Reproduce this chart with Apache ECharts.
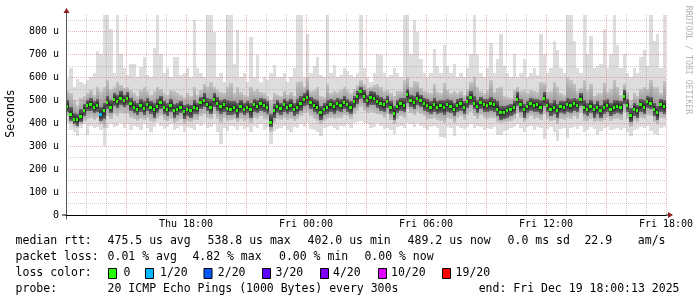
<!DOCTYPE html>
<html><head><meta charset="utf-8">
<script src="https://cdn.jsdelivr.net/npm/echarts@6/dist/echarts.min.js"></script>
<style>html,body{margin:0;padding:0;background:#fff}#c{width:697px;height:297px}</style>
</head><body><div id="c"></div>
<script>
// ---- data (10-minute slots, Thu 12:00 -> Fri 18:00), values in microseconds ----
const slotHours = 1 / 6;
const yMax = 872;
const median = [
475,440,418,415,430,455,478,482,470,478,
440,455,490,470,505,495,510,500,508,485,
470,462,478,465,482,470,458,475,490,468,
460,478,455,462,470,450,458,455,470,465,
490,498,480,470,502,488,472,480,466,462,
470,455,475,462,470,458,480,472,485,478,
470,402,455,472,465,480,470,478,462,470,
488,505,512,490,478,470,445,462,470,480,
472,485,478,490,480,470,495,515,538,518,
500,512,508,495,488,480,495,470,443,472,
485,478,526,500,490,510,498,485,478,470,
482,470,476,468,480,475,462,478,485,470,
495,512,488,475,490,480,478,485,480,462,
445,448,455,458,470,505,480,458,472,485,
478,480,470,508,478,462,470,455,472,468,
480,476,485,478,505,470,462,475,458,468,
455,470,478,462,470,475,468,516,478,432,
462,455,480,470,495,488,460,445,480,472];
const pingMax = [
595,640,560,595,580,570,590,600,620,713,
700,870,870,813,620,870,700,640,610,660,
660,600,645,690,610,600,726,870,700,620,
640,600,690,690,610,620,640,600,850,640,
620,600,870,870,800,600,620,580,870,870,
660,806,600,620,580,778,600,697,580,600,
590,620,653,600,600,620,580,600,640,870,
870,600,790,620,650,690,610,600,870,620,
653,600,610,640,630,610,600,620,870,640,
600,580,620,700,697,620,600,610,640,620,
600,870,870,700,850,800,680,620,600,620,
725,650,620,740,650,620,660,600,620,600,
640,700,870,700,620,600,640,750,620,680,
790,650,620,600,700,600,620,680,600,620,
640,610,790,700,620,640,760,720,640,620,
870,870,760,640,620,870,700,780,640,650,
660,810,640,700,870,740,640,700,620,600,
640,620,690,720,650,870,760,790,640,870];
const pingMin = [
400,370,360,345,380,395,350,390,380,385,
370,300,380,395,385,390,400,380,395,372,
390,385,370,395,380,360,385,400,390,375,
385,395,370,380,390,360,385,380,370,395,
390,400,380,385,395,360,310,380,365,390,
385,370,390,375,385,360,390,380,395,370,
385,310,365,375,380,390,370,360,385,380,
395,385,400,375,370,360,345,380,385,390,
380,370,390,385,395,380,400,405,410,400,
395,380,385,400,390,375,380,370,355,385,
390,380,400,395,385,400,390,380,370,385,
390,380,340,335,385,380,345,390,380,375,
385,395,380,390,385,370,380,375,385,350,
350,365,370,380,385,395,380,360,385,390,
370,385,380,330,375,385,360,322,375,380,
335,380,385,375,390,360,370,385,375,350,
365,380,385,370,375,380,370,380,360,345,
370,375,385,380,390,365,355,350,380,385];
const midHigh = [
540,530,500,480,510,520,530,545,525,560,
540,560,590,550,560,580,565,555,560,545,
530,520,545,560,540,525,540,560,550,530,
525,545,540,530,525,515,530,520,560,525,
545,570,560,580,560,545,535,530,560,575,
530,560,535,525,520,560,540,550,535,530,
520,500,530,525,520,540,525,535,520,580,
585,560,600,540,545,560,520,515,570,530,
540,535,545,560,545,530,550,565,590,570,
555,560,565,570,560,540,545,530,520,540,
540,590,600,560,585,580,555,540,535,530,
570,535,530,575,545,530,540,530,540,525,
550,580,600,560,540,530,545,590,535,555,
560,520,515,510,545,560,540,545,530,545,
540,535,580,575,535,540,580,560,530,525,
600,590,570,540,555,590,545,570,520,530,
530,575,535,550,590,560,525,570,535,500,
530,520,550,560,550,590,560,560,530,585];
const midLow = [
430,400,385,380,395,410,420,425,415,425,
395,380,430,420,440,430,445,440,445,425,
420,410,420,415,425,410,405,420,430,415,
410,420,400,410,420,395,410,405,415,415,
430,440,425,420,440,420,400,425,410,415,
420,405,420,410,420,400,425,420,430,420,
420,360,400,420,415,425,415,420,410,420,
430,445,450,430,420,410,395,410,420,425,
420,425,425,435,430,420,440,455,470,455,
445,450,445,440,435,425,440,415,395,420,
430,425,460,445,435,450,440,430,420,420,
425,415,410,400,425,420,400,425,430,415,
435,450,430,420,435,425,420,425,425,405,
400,405,405,410,420,445,425,405,420,430,
420,425,415,440,420,410,415,395,420,415,
425,420,430,420,445,410,410,420,405,410,
405,415,425,410,420,420,415,450,420,385,
410,405,425,420,435,430,405,395,425,420];
const coreHigh = [
500,470,445,440,460,485,500,510,495,505,
470,490,520,500,530,525,540,525,535,510,
495,490,505,495,510,495,490,505,520,495,
490,505,485,490,495,480,485,480,500,490,
515,530,510,505,530,515,500,505,500,495,
495,490,500,490,495,490,505,500,510,505,
495,440,485,500,490,505,495,505,490,505,
520,530,545,515,505,500,475,490,500,505,
500,510,505,520,505,495,520,540,560,545,
525,540,535,525,515,505,520,495,475,500,
510,510,550,525,520,535,525,510,505,495,
510,495,500,500,505,500,490,505,510,495,
520,540,520,500,515,505,505,515,505,495,
475,475,480,485,495,535,505,485,495,510,
505,505,500,535,505,490,500,485,495,495,
510,505,510,505,530,500,490,500,485,495,
480,500,505,490,500,500,495,545,505,465,
490,480,505,500,520,515,490,475,505,500];
const coreLow = [
450,410,395,390,405,430,455,455,445,450,
410,420,460,445,475,465,480,470,480,455,
445,435,450,435,455,440,425,445,460,440,
430,450,425,435,445,420,430,425,440,440,
460,470,455,440,470,455,440,450,435,435,
440,425,445,435,445,425,450,445,455,450,
440,385,425,445,435,450,440,450,430,440,
455,475,480,460,450,440,415,435,440,450,
440,455,450,460,450,440,465,485,505,490,
470,480,480,465,455,450,465,440,415,445,
455,450,490,470,460,480,470,455,450,440,
450,440,445,435,450,445,430,450,455,440,
465,480,460,445,460,450,450,455,450,430,
415,420,425,430,440,475,450,425,445,455,
450,450,440,475,450,430,440,425,445,440,
450,445,455,450,475,440,430,445,425,440,
425,440,450,430,440,445,440,485,450,405,
430,425,450,440,465,460,430,415,450,440];
const lossSlots = [10];
const lossSlotCount = [1];
const lossCounts = [0, 1, 2, 3, 4, 10, 19];
const lossLabels = ['0', '1/20', '2/20', '3/20', '4/20', '10/20', '19/20'];
const lossColors = ['#26ff00', '#00b8ff', '#0059ff', '#5e00ff', '#7e00ff', '#dd00ff', '#ff0000'];
const xTickHours = [6, 12, 18, 24, 30];
const xTickLabels = ['Thu 18:00', 'Fri 00:00', 'Fri 06:00', 'Fri 12:00', 'Fri 18:00'];
const yTickValues = [0, 100, 200, 300, 400, 500, 600, 700, 800];
const yTickLabels = ['0', '100 u', '200 u', '300 u', '400 u', '500 u', '600 u', '700 u', '800 u'];
const rttStats = ['475.5 us avg', '538.8 us max', '402.0 us min', '489.2 us now', '0.0 ms sd', '22.9', 'am/s'];
const lossStats = ['0.01 % avg', '4.82 % max', '0.00 % min', '0.00 % now'];
const probeText = '20 ICMP Echo Pings (1000 Bytes) every 300s';
const endText = 'end: Fri Dec 19 18:00:13 2025';

// ---- rendering ----
const mono = 'DejaVu Sans Mono';
const chart = echarts.init(document.getElementById('c'), null, {renderer: 'canvas'});
const data = median.map((m, k) => {
  const li = lossSlots.indexOf(k);
  return [k * slotHours, pingMin[k], pingMax[k], midLow[k], midHigh[k], coreLow[k], coreHigh[k], m, li >= 0 ? lossSlotCount[li] : 0];
});
function lossColor(n) {
  let c = lossColors[0];
  for (let i = 0; i < lossCounts.length; i++) if (n >= lossCounts[i]) c = lossColors[i];
  return c;
}
function shade(edge, centre, f) {
  const s = Math.max(0.02, Math.min(0.98, f));
  return {type: 'linear', x: 0, y: 0, x2: 0, y2: 1, colorStops: [
    {offset: 0, color: edge}, {offset: s, color: centre}, {offset: 1, color: edge}]};
}
function renderItem(params, api) {
  const t = api.value(0);
  const xa = Math.round(api.coord([t, 0])[0]);
  const xb = Math.round(api.coord([t + slotHours, 0])[0]);
  const w = xb - xa;
  const ym = api.coord([t, api.value(7)])[1];
  const band = (lo, hi, edge, centre) => {
    const ya = Math.round(api.coord([t, Math.min(hi, yMax)])[1]);
    const yb = Math.round(api.coord([t, lo])[1]);
    const h = yb - ya;
    const fill = centre ? shade(edge, centre, (ym - ya) / h) : edge;
    return {type: 'rect', shape: {x: xa, y: ya, width: w, height: h}, style: {fill: fill}};
  };
  return {type: 'group', children: [
    band(api.value(1), api.value(2), '#dddddd'),
    band(api.value(3), api.value(4), '#c4c4c4', '#8a8a8a'),
    band(api.value(5), api.value(6), '#6a6a6a', '#1e1e1e'),
    {type: 'rect', shape: {x: xa, y: Math.round(ym - 1.5), width: Math.max(2, w - 1), height: 3}, style: {fill: lossColor(api.value(8))}}
  ]};
}

const minorGrid = {color: 'rgba(143,143,143,0.42)', type: [1, 1], width: 1};
const majorGrid = {color: 'rgba(222,80,80,0.45)', type: [1, 1], width: 1};

const option = {
  animation: false,
  backgroundColor: '#ffffff',
  grid: {left: 66, top: 15, width: 600, height: 200, containLabel: false},
  xAxis: {
    type: 'value', min: 0, max: 30, interval: 3, z: 5,
    axisLine: {show: true, onZero: false, lineStyle: {color: '#000', width: 1}},
    axisTick: {show: false},
    axisLabel: {
      formatter: v => { const i = xTickHours.indexOf(v); return i >= 0 ? xTickLabels[i] : ''; },
      fontFamily: mono, fontSize: 10, color: '#000', margin: 4, showMinLabel: false, showMaxLabel: true
    },
    splitLine: {show: true, showMinLine: false, lineStyle: majorGrid},
    minorTick: {show: false, splitNumber: 3},
    minorSplitLine: {show: true, lineStyle: minorGrid}
  },
  yAxis: {
    type: 'value', min: 0, max: yMax, interval: 100, z: 5,
    axisLine: {show: true, lineStyle: {color: '#555', width: 1}},
    axisTick: {show: false},
    axisLabel: {
      formatter: v => { const i = yTickValues.indexOf(v); return i >= 0 ? yTickLabels[i] : ''; },
      fontFamily: mono, fontSize: 10, color: '#000', margin: 7, showMaxLabel: false
    },
    splitLine: {show: true, showMinLine: false, showMaxLine: false, lineStyle: majorGrid},
    minorTick: {show: false, splitNumber: 2},
    minorSplitLine: {show: true, lineStyle: minorGrid}
  },
  series: [{
    type: 'custom', renderItem: renderItem, data: data, z: 2, clip: true,
    encode: {x: 0, y: 7}
  }]
};
chart.setOption(option);

// ---- texts & axis decorations ----
const g = [];
function txt(x, y, s, opts) {
  g.push(Object.assign({type: 'text', x: x, y: y, silent: true,
    style: Object.assign({text: s, fontFamily: mono, fontSize: 11.5, fill: '#000', textAlign: 'left', textVerticalAlign: 'middle'}, (opts && opts.style) || {})},
    (opts && opts.el) || {}));
}
txt(11, 113.5, 'Seconds', {style: {textAlign: 'center'}, el: {rotation: Math.PI / 2}});
txt(688, 60, 'RRDTOOL / TOBI OETIKER', {style: {textAlign: 'center', fontSize: 8.2, fill: '#b4b4b4'}, el: {rotation: -Math.PI / 2}});

const row = [241, 257, 273, 289];
txt(15.6, row[0], 'median rtt:');
const rttX = [107.6, 207.6, 307.6, 407.6, 507.6, 584.4, 637.8];
rttStats.forEach((s, i) => txt(rttX[i], row[0], s));
txt(15.6, row[1], 'packet loss:');
const lossX = [107.6, 192.4, 279, 364.4];
lossStats.forEach((s, i) => txt(lossX[i], row[1], s));
txt(15.6, row[2], 'loss color:');
const swX = [108.5, 145.5, 204, 262.5, 320.5, 378.5, 442.5];
const swLabelX = [123.6, 160, 217.8, 275.6, 333, 391, 455.6];
lossLabels.forEach((s, i) => {
  g.push({type: 'rect', silent: true, shape: {x: swX[i], y: row[2] - 4.5, width: 8, height: 10},
    style: {fill: lossColors[i], stroke: '#000', lineWidth: 1}});
  txt(swLabelX[i], row[2], s);
});
txt(15.6, row[3], 'probe:');
txt(107.6, row[3], probeText);
txt(478.7, row[3], endText);

const p00 = chart.convertToPixel({gridIndex: 0}, [0, 0]);
const pTop = chart.convertToPixel({gridIndex: 0}, [0, yMax]);
const pEnd = chart.convertToPixel({gridIndex: 0}, [30, 0]);
const ax = Math.round(p00[0]) + 0.5, ay = Math.round(p00[1]) + 0.5;
const arrowColor = '#8c1c1c';
g.push({type: 'line', silent: true, z: 10, shape: {x1: ax, y1: pTop[1], x2: ax, y2: pTop[1] - 2}, style: {stroke: '#555', lineWidth: 1}});
g.push({type: 'line', silent: true, z: 10, shape: {x1: ax, y1: ay, x2: ax, y2: ay + 4}, style: {stroke: '#555', lineWidth: 1}});
g.push({type: 'line', silent: true, z: 10, shape: {x1: ax - 4.5, y1: ay - 0.5, x2: ax, y2: ay - 0.5}, style: {stroke: '#000', lineWidth: 1}});
g.push({type: 'line', silent: true, z: 10, shape: {x1: pEnd[0], y1: ay - 0.5, x2: pEnd[0] + 3, y2: ay - 0.5}, style: {stroke: '#000', lineWidth: 1}});
g.push({type: 'polygon', silent: true, z: 10, shape: {points: [[ax - 3, pTop[1] - 2], [ax + 3, pTop[1] - 2], [ax, pTop[1] - 7]]}, style: {fill: arrowColor}});
g.push({type: 'polygon', silent: true, z: 10, shape: {points: [[pEnd[0] + 2, ay - 3.5], [pEnd[0] + 2, ay + 2.5], [pEnd[0] + 7, ay - 0.5]]}, style: {fill: arrowColor}});

chart.setOption({graphic: g});
</script>
</body></html>
